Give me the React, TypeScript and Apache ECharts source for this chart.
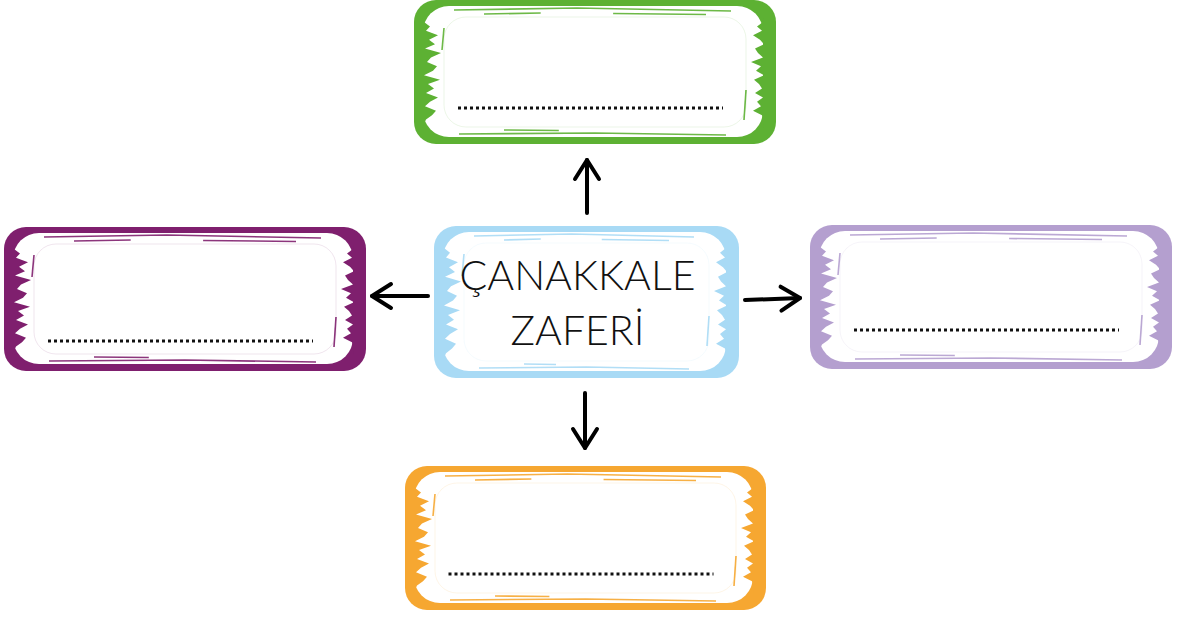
import React, { useEffect, useRef } from 'react';
import * as echarts from 'echarts';

// Box data (centres in page coordinates)
const boxNames = ['top', 'left', 'center', 'right', 'bottom'];
const boxCenterX = [595, 185, 586.5, 991, 585.5];
const boxCenterY = [72, 299, 302, 297, 538];
const boxColors = ['#5DB133', '#7F1F6E', '#A8DAF5', '#B49FCF', '#F6A731'];
const boxLabels = ['', '', 'ÇANAKKALE\nZAFERİ', '', ''];
const blankLineY = [108, 341, -1, 330, 574];

// Arrows (from -> to)
const arrowFromX = [587, 428, 745, 585];
const arrowFromY = [213, 296, 300, 393];
const arrowToX = [587, 372, 800, 585];
const arrowToY = [160, 296, 298, 448];

// layout constants
const BOX_W = [362, 362, 305, 362, 361];
const BOX_H = [144, 144, 152, 144, 144];
const LEFT_JAG = [10, 16, 12, 24, 15, 21, 11, 27, 17, 13, 23, 19, 10, 26, 14, 20, 12, 24, 16, 11, 22, 18, 12, 10];
const RIGHT_JAG = [13, 19, 14, 23, 16, 12, 21, 18, 13, 25, 15, 20, 12, 22, 17, 14, 21, 13, 19, 15, 23, 14, 13, 13];

function streaks(x0: number, y0: number, w: number, h: number, color: string) {
  const els: any[] = [];
  const top = 22;
  const bot = h - 20;
  const n = LEFT_JAG.length;
  const step = (bot - top) / (n - 1);
  const leftPts: number[][] = [[x0 + 8, y0 + top - 4]];
  LEFT_JAG.forEach((d, k) => leftPts.push([x0 + d, y0 + top + k * step]));
  leftPts.push([x0 + 8, y0 + bot + 4]);
  els.push({ type: 'polygon', shape: { points: leftPts }, style: { fill: color } });
  const rightPts: number[][] = [[x0 + w - 12, y0 + top - 4]];
  RIGHT_JAG.forEach((d, k) => rightPts.push([x0 + w - d, y0 + top + k * step]));
  rightPts.push([x0 + w - 12, y0 + bot + 4]);
  els.push({ type: 'polygon', shape: { points: rightPts }, style: { fill: color } });
  // thin streaks along edges
  const lines = [
    [[40, 10], [w * 0.45, 8], [w - 45, 11]],
    [[70, 14], [w * 0.35, 13]],
    [[w * 0.55, 13.5], [w - 70, 14.5]],
    [[45, h - 10], [w * 0.5, h - 11], [w - 50, h - 9]],
    [[90, h - 14], [w * 0.4, h - 13.5]],
    [[30, 28], [28, 50]],
    [[w - 30, 90], [w - 32, 120]],
  ];
  lines.forEach((pts) => {
    els.push({
      type: 'polyline',
      shape: { points: pts.map(([dx, dy]) => [x0 + dx, y0 + dy]) },
      style: { stroke: color, lineWidth: 1.6, fill: null, opacity: 0.9 },
    });
  });
  els.push({
    type: 'rect',
    shape: { x: x0 + 30, y: y0 + 17, width: w - 60, height: h - 34, r: 22 },
    style: { fill: null, stroke: color, lineWidth: 0.6, opacity: 0.2 },
  });
  return els;
}

export default function App() {
  const ref = useRef<HTMLDivElement>(null);
  useEffect(() => {
    if (!ref.current) return;
    const chart = echarts.init(ref.current, null, { renderer: 'svg' });
    const boxData = boxNames.map((n, i) => [boxCenterX[i], boxCenterY[i], i]);
    const arrowData = arrowFromX.map((_, i) => [arrowFromX[i], arrowFromY[i], arrowToX[i], arrowToY[i]]);
    chart.setOption({
      animation: false,
      backgroundColor: '#ffffff',
      grid: { left: 0, right: 0, top: 0, bottom: 0 },
      xAxis: { type: 'value', min: 0, max: 1182, show: false },
      yAxis: { type: 'value', min: 0, max: 617, inverse: true, show: false },
      series: [
        {
          type: 'custom',
          name: 'boxes',
          data: boxData,
          renderItem: (params: any, api: any) => {
            const i = api.value(2);
            const c = api.coord([api.value(0), api.value(1)]);
            const w = BOX_W[i];
            const h = BOX_H[i];
            const x0 = c[0] - w / 2;
            const y0 = c[1] - h / 2;
            const color = boxColors[i];
            const children: any[] = [
              { type: 'rect', shape: { x: x0, y: y0, width: w, height: h, r: 22 }, style: { fill: color } },
              { type: 'rect', shape: { x: x0 + 9, y: y0 + 6, width: w - 22, height: h - 13, r: 26 }, style: { fill: '#ffffff' } },
              ...streaks(x0, y0, w, h, color),
            ];
            if (blankLineY[i] > 0) {
              const ly = api.coord([0, blankLineY[i]])[1];
              children.push({
                type: 'line',
                shape: { x1: c[0] - 137, y1: ly, x2: c[0] + 128, y2: ly },
                style: { stroke: '#111111', lineWidth: 3, lineDash: [3, 3] },
              });
            }
            if (boxLabels[i]) {
              children.push({
                type: 'text',
                style: {
                  x: c[0] - 9,
                  y: c[1],
                  text: boxLabels[i],
                  fill: '#111111',
                  font: '300 41px Lato, "Noto Sans", sans-serif',
                  lineHeight: 55,
                  align: 'center',
                  verticalAlign: 'middle',
                },
              });
            }
            return { type: 'group', children };
          },
          z: 1,
        },
        {
          type: 'custom',
          name: 'arrows',
          data: arrowData,
          renderItem: (params: any, api: any) => {
            const a = api.coord([api.value(0), api.value(1)]);
            const b = api.coord([api.value(2), api.value(3)]);
            const dx = b[0] - a[0];
            const dy = b[1] - a[1];
            const len = Math.sqrt(dx * dx + dy * dy);
            const ux = dx / len;
            const uy = dy / len;
            const px = -uy;
            const py = ux;
            const hl = 19;
            const hw = 12;
            const w1 = [b[0] - ux * hl + px * hw, b[1] - uy * hl + py * hw];
            const w2 = [b[0] - ux * hl - px * hw, b[1] - uy * hl - py * hw];
            return {
              type: 'group',
              children: [
                { type: 'line', shape: { x1: a[0], y1: a[1], x2: b[0], y2: b[1] }, style: { stroke: '#000', lineWidth: 4, lineCap: 'round' } },
                { type: 'polyline', shape: { points: [w1, b, w2] }, style: { stroke: '#000', lineWidth: 4, lineCap: 'round', lineJoin: 'round', fill: null } },
              ],
            };
          },
          z: 2,
        },
      ],
    });
    return () => chart.dispose();
  }, []);
  return <div ref={ref} style={{ position: 'fixed', left: 0, top: 0, width: 1182, height: 617 }} />;
}
